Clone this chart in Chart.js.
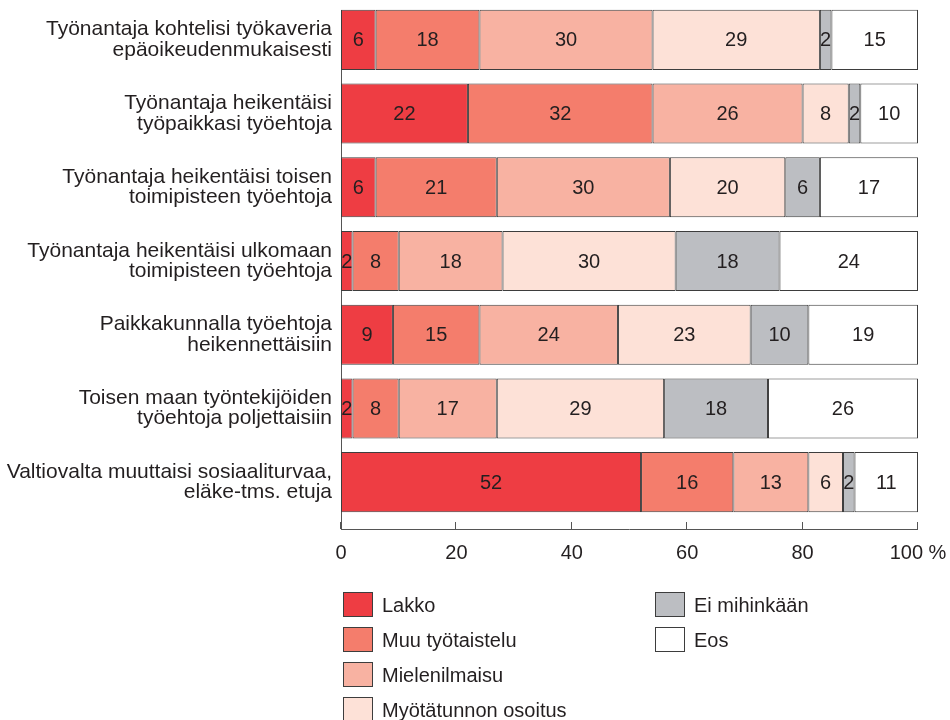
<!DOCTYPE html>
<html>
<head>
<meta charset="utf-8">
<script src="https://cdn.jsdelivr.net/npm/chart.js@4.4.1/dist/chart.umd.min.js"></script>
<style>
  html, body { margin: 0; padding: 0; background: #ffffff; }
  #wrap { position: relative; width: 950px; height: 720px; }
</style>
</head>
<body>
<div id="wrap"><canvas id="c" width="950" height="720"></canvas></div>
<script>
const categories = [
  ['Työnantaja kohtelisi työkaveria', 'epäoikeudenmukaisesti'],
  ['Työnantaja heikentäisi', 'työpaikkasi työehtoja'],
  ['Työnantaja heikentäisi toisen', 'toimipisteen työehtoja'],
  ['Työnantaja heikentäisi ulkomaan', 'toimipisteen työehtoja'],
  ['Paikkakunnalla työehtoja', 'heikennettäisiin'],
  ['Toisen maan työntekijöiden', 'työehtoja poljettaisiin'],
  ['Valtiovalta muuttaisi sosiaaliturvaa,', 'eläke-tms. etuja']
];
const seriesNames = ['Lakko', 'Muu työtaistelu', 'Mielenilmaisu', 'Myötätunnon osoitus', 'Ei mihinkään', 'Eos'];
const lakko         = [6, 22, 6, 2, 9, 2, 52];
const muuTyotaistelu = [18, 32, 21, 8, 15, 8, 16];
const mielenilmaisu = [30, 26, 30, 18, 24, 17, 13];
const myotatunto    = [29, 8, 20, 30, 23, 29, 6];
const eiMihinkaan   = [2, 2, 6, 18, 10, 18, 2];
const eos           = [15, 10, 17, 24, 19, 26, 11];
const xTicks = [0, 20, 40, 60, 80, 100];

const colors = ['#ee3d43', '#f47d6c', '#f8b2a2', '#fde1d7', '#bcbec2', '#ffffff'];
const seriesValues = [lakko, muuTyotaistelu, mielenilmaisu, myotatunto, eiMihinkaan, eos];

const FONT = '"Liberation Sans", Arial, sans-serif';
const TEXT = '#231f20';

const axisPlugin = {
  id: 'axisLines',
  beforeDatasetsDraw(chart) {
    const ctx = chart.ctx, a = chart.chartArea, xs = chart.scales.x;
    const yb = a.bottom + 10;
    ctx.save();
    ctx.strokeStyle = '#555';
    ctx.lineWidth = 1;
    ctx.beginPath();
    ctx.moveTo(a.left + 0.5, a.top + 7);
    ctx.lineTo(a.left + 0.5, yb);
    ctx.moveTo(a.left, yb + 0.5);
    ctx.lineTo(a.right, yb + 0.5);
    xTicks.forEach(v => {
      const px = Math.round(xs.getPixelForValue(v)) - 0.5;
      ctx.moveTo(px, yb);
      ctx.lineTo(px, yb - 7);
    });
    ctx.stroke();
    ctx.restore();
  }
};

const valueLabelPlugin = {
  id: 'valueLabels',
  afterDatasetsDraw(chart) {
    const ctx = chart.ctx;
    ctx.save();
    ctx.font = '20px ' + FONT;
    ctx.fillStyle = TEXT;
    ctx.textAlign = 'center';
    ctx.textBaseline = 'middle';
    chart.data.datasets.forEach((ds, i) => {
      chart.getDatasetMeta(i).data.forEach((el, j) => {
        const v = ds.data[j];
        if (!v) return;
        const cx = (el.x + el.base) / 2;
        ctx.fillText(String(v), cx, el.y + 1);
      });
    });
    ctx.restore();
  }
};

const legendPlugin = {
  id: 'colLegend',
  afterDraw(chart) {
    const ctx = chart.ctx;
    const cols = [{x: 343, rows: [0, 1, 2, 3]}, {x: 655, rows: [4, 5]}];
    ctx.save();
    ctx.font = '20px ' + FONT;
    ctx.textBaseline = 'middle';
    ctx.textAlign = 'left';
    cols.forEach(col => {
      col.rows.forEach((di, r) => {
        const ds = chart.data.datasets[di];
        const top = 592 + r * 35;
        ctx.fillStyle = ds.backgroundColor;
        ctx.fillRect(col.x, top, 30, 25);
        ctx.strokeStyle = '#3d3d3d';
        ctx.lineWidth = 1;
        ctx.strokeRect(col.x + 0.5, top + 0.5, 29, 24);
        ctx.fillStyle = TEXT;
        ctx.fillText(ds.label, col.x + 39, top + 14);
      });
    });
    ctx.restore();
  }
};

new Chart(document.getElementById('c'), {
  type: 'bar',
  data: {
    labels: categories,
    datasets: seriesNames.map((name, i) => ({
      label: name,
      data: seriesValues[i],
      backgroundColor: colors[i],
      borderColor: '#3d3d3d',
      borderWidth: 1,
      borderSkipped: false,
      barPercentage: 0.815,
      categoryPercentage: 1
    }))
  },
  options: {
    indexAxis: 'y',
    responsive: false,
    animation: false,
    devicePixelRatio: 1,
    layout: { padding: { left: 0, right: 32, top: 3, bottom: 0 } },
    plugins: {
      legend: { display: false },
      tooltip: { enabled: false }
    },
    scales: {
      x: {
        stacked: true,
        min: 0,
        max: 100,
        afterBuildTicks(scale) { scale.ticks = xTicks.map(v => ({ value: v })); },
        afterFit(scale) {
          scale.height = 201;
          scale.paddingLeft = 0; scale.paddingRight = 0;
          scale.paddingTop = 0; scale.paddingBottom = 0;
        },
        grid: { display: false, drawTicks: false },
        border: { display: false },
        ticks: {
          padding: 22,
          color: TEXT,
          font: { family: FONT, size: 20 },
          maxRotation: 0,
          callback: v => v === 100 ? '100 %' : String(v)
        }
      },
      y: {
        stacked: true,
        afterFit(scale) {
          scale.width = 341;
          scale.paddingTop = 0; scale.paddingBottom = 0;
          scale.paddingLeft = 0; scale.paddingRight = 0;
        },
        grid: { display: false, drawTicks: false },
        border: { display: false },
        ticks: {
          padding: 9,
          color: TEXT,
          font: { family: FONT, size: 21, lineHeight: 0.97 }
        }
      }
    }
  },
  plugins: [axisPlugin, valueLabelPlugin, legendPlugin]
});
</script>
</body>
</html>
